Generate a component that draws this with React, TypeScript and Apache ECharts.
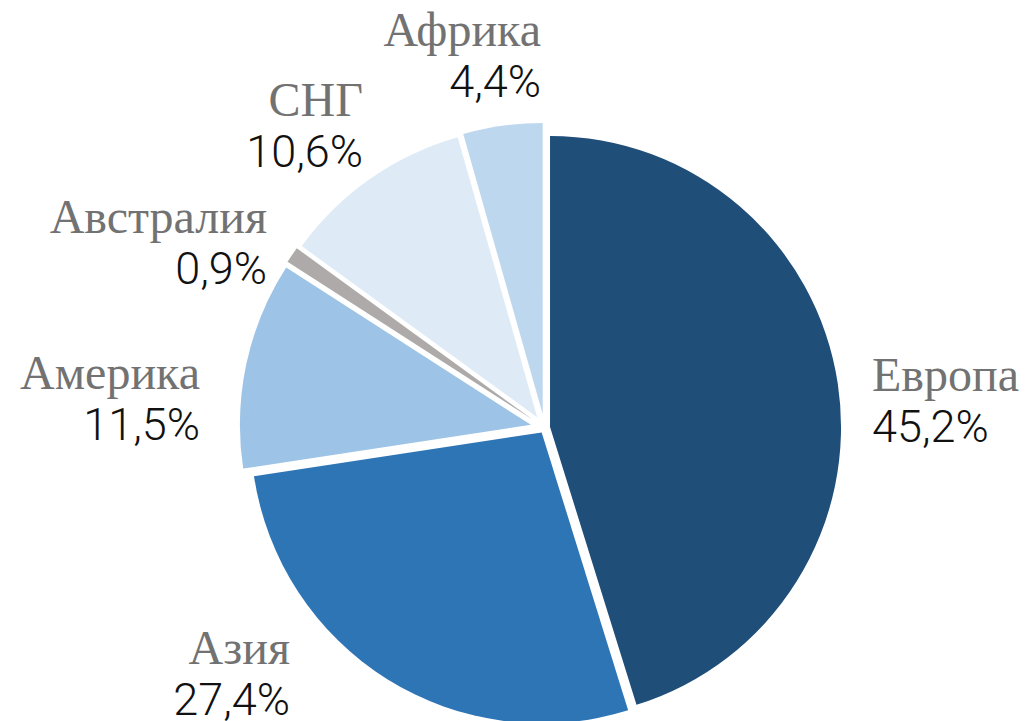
import React, { useEffect, useRef } from "react";
import * as echarts from "echarts";

const names = ["Европа", "Азия", "Америка", "Австралия", "СНГ", "Африка"];
const values = [45.2, 27.4, 11.5, 0.9, 10.6, 4.4];
const colors = ["#1f4e79", "#2e75b6", "#9dc3e6", "#aeaaaa", "#deebf7", "#bdd7ee"];
// explosion offset of each slice (px)
const explode = [5.5, 5.5, 14, 15, 13, 14];
// label anchor (x, y, align)
const labelAnchors: [number, number, string][] = [
  [872, 400, "left"],
  [290, 673, "right"],
  [200, 398, "right"],
  [267, 242, "right"],
  [363, 125, "right"],
  [541, 55, "right"],
];

const CX = 544.6;
const CY = 427.8;
const R = 291;

export default function App() {
  const ref = useRef<HTMLDivElement>(null);
  useEffect(() => {
    if (!ref.current) return;
    const chart = echarts.init(ref.current, null, { renderer: "svg" });
    const total = values.reduce((a, b) => a + b, 0);
    let acc = 0;
    const series: any[] = values.map((v, i) => {
      const mid = ((acc + v / 2) / total) * 2 * Math.PI;
      acc += v;
      const cx = CX + explode[i] * Math.sin(mid);
      const cy = CY - explode[i] * Math.cos(mid);
      const [lx, ly, al] = labelAnchors[i];
      return {
        type: "pie",
        radius: R,
        center: [cx, cy],
        startAngle: 90,
        clockwise: true,
        avoidLabelOverlap: false,
        silent: true,
        emphasis: { disabled: true },
        labelLine: { show: false },
        labelLayout: () => ({ x: lx, y: ly, align: al, verticalAlign: "middle" }),
        data: values.map((val, j) => ({
          name: names[j],
          value: val,
          itemStyle: { color: j === i ? colors[j] : "rgba(0,0,0,0)" },
          label:
            j === i
              ? {
                  show: true,
                  position: "outside",
                  formatter: `{n|${names[j]}}\n{p|${val.toFixed(1).replace(".", ",")}%}`,
                  rich: {
                    n: {
                      fontFamily: "Liberation Serif",
                      fontSize: 48,
                      color: "#727272",
                      lineHeight: 52,
                      align: al,
                    },
                    p: {
                      fontFamily: "Roboto",
                      fontWeight: 300,
                      fontSize: 45,
                      color: "#111111",
                      lineHeight: 52,
                      align: al,
                    },
                  },
                }
              : { show: false },
        })),
      };
    });
    chart.setOption({ animation: false, series });
    return () => chart.dispose();
  }, []);
  return (
    <div
      ref={ref}
      style={{ position: "fixed", left: 0, top: 0, width: 1028, height: 721, background: "#fff" }}
    />
  );
}
